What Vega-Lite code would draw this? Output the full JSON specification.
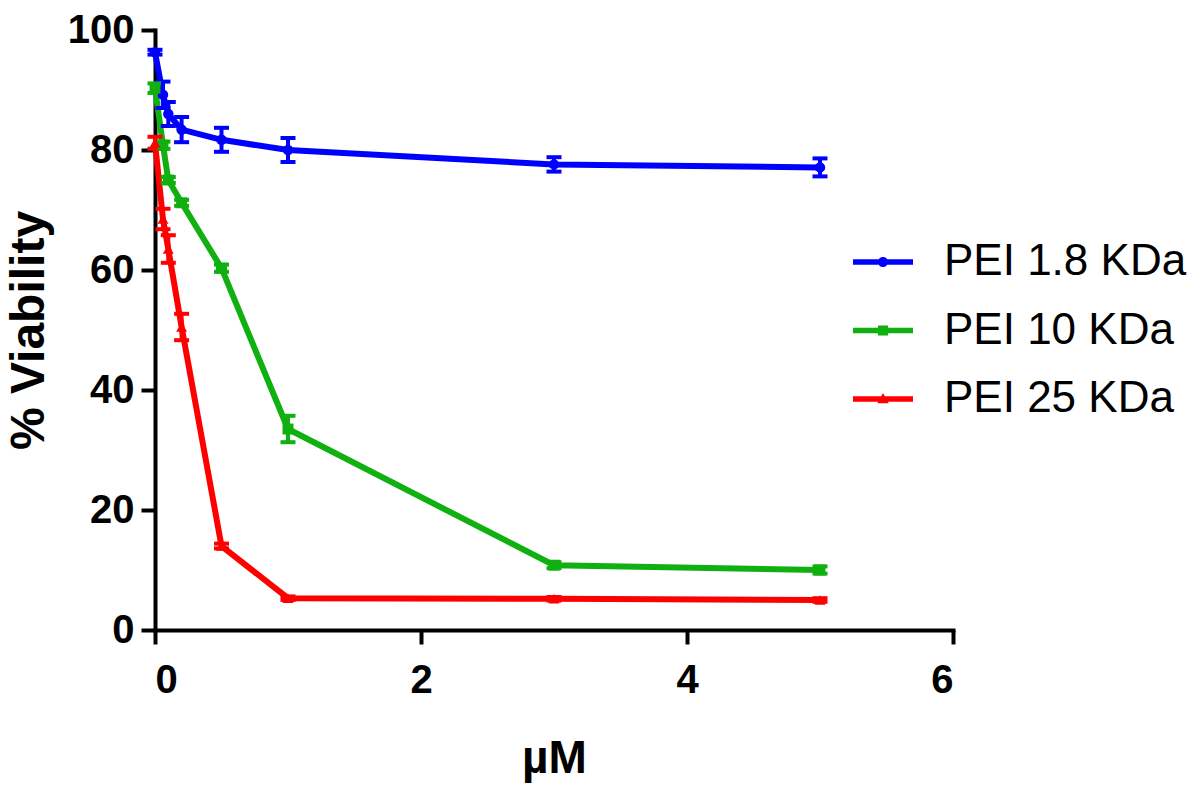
{
  "$schema": "https://vega.github.io/schema/vega-lite/v6.json",
  "width": 798,
  "height": 600,
  "autosize": {"type": "none"},
  "padding": {"left": 155, "top": 30, "right": 251, "bottom": 161},
  "background": "white",
  "config": {
    "view": {"stroke": null},
    "font": "Liberation Sans",
    "axis": {
      "grid": false,
      "domainColor": "black",
      "domainWidth": 4,
      "domainCap": "square",
      "tickColor": "black",
      "tickWidth": 4,
      "tickSize": 14,
      "labelFont": "Liberation Sans",
      "labelFontWeight": "bold",
      "labelFontSize": 40,
      "labelColor": "black",
      "titleFont": "Liberation Sans",
      "titleFontWeight": "bold",
      "titleFontSize": 48,
      "titleColor": "black"
    },
    "legend": {
      "labelFont": "Liberation Sans",
      "labelFontSize": 44,
      "labelColor": "black",
      "labelLimit": 400
    }
  },
  "data": {
    "values": [
      {"series": "PEI 1.8 KDa", "x": 0, "v": 96.3, "err": 0.4},
      {"series": "PEI 1.8 KDa", "x": 0.06, "v": 89.2, "err": 2.2},
      {"series": "PEI 1.8 KDa", "x": 0.1, "v": 86.0, "err": 2.0},
      {"series": "PEI 1.8 KDa", "x": 0.2, "v": 83.4, "err": 2.1},
      {"series": "PEI 1.8 KDa", "x": 0.5, "v": 81.7, "err": 2.0},
      {"series": "PEI 1.8 KDa", "x": 1, "v": 80.0, "err": 2.0},
      {"series": "PEI 1.8 KDa", "x": 3, "v": 77.6, "err": 1.2},
      {"series": "PEI 1.8 KDa", "x": 5, "v": 77.1, "err": 1.5},
      {"series": "PEI 10 KDa", "x": 0, "v": 90.3, "err": 0.8},
      {"series": "PEI 10 KDa", "x": 0.06, "v": 80.8, "err": 0.6},
      {"series": "PEI 10 KDa", "x": 0.1, "v": 75.0, "err": 0.5},
      {"series": "PEI 10 KDa", "x": 0.2, "v": 71.2, "err": 0.5},
      {"series": "PEI 10 KDa", "x": 0.5, "v": 60.3, "err": 0.6},
      {"series": "PEI 10 KDa", "x": 1, "v": 33.5, "err": 2.2},
      {"series": "PEI 10 KDa", "x": 3, "v": 10.8, "err": 0.5},
      {"series": "PEI 10 KDa", "x": 5, "v": 10.0, "err": 0.6},
      {"series": "PEI 25 KDa", "x": 0, "v": 81.2, "err": 1.0},
      {"series": "PEI 25 KDa", "x": 0.06, "v": 68.5, "err": 1.7},
      {"series": "PEI 25 KDa", "x": 0.1, "v": 63.5, "err": 2.3},
      {"series": "PEI 25 KDa", "x": 0.2, "v": 50.5, "err": 2.2},
      {"series": "PEI 25 KDa", "x": 0.5, "v": 14.0, "err": 0.4},
      {"series": "PEI 25 KDa", "x": 1, "v": 5.3, "err": 0.3},
      {"series": "PEI 25 KDa", "x": 3, "v": 5.2, "err": 0.3},
      {"series": "PEI 25 KDa", "x": 5, "v": 5.0, "err": 0.3}
    ]
  },
  "encoding": {
    "x": {
      "field": "x", "type": "quantitative",
      "scale": {"domain": [0, 6], "nice": false, "zero": false},
      "axis": {"values": [0, 2, 4, 6], "title": "µM", "labelPadding": 16, "titlePadding": 36, "titleFontSize": 46}
    },
    "y": {
      "field": "v", "type": "quantitative",
      "scale": {"domain": [0, 100], "nice": false},
      "axis": {"values": [0, 20, 40, 60, 80, 100], "title": "% Viability", "labelPadding": 7, "titlePadding": 14}
    }
  },
  "layer": [
    {
      "mark": {"type": "line", "strokeWidth": 6},
      "encoding": {
        "color": {"field": "series", "type": "nominal", "scale": {"range": ["#0000FF", "#10B010", "#FF0000"]}, "legend": null},
        "order": {"field": "x", "type": "quantitative"}
      }
    },
    {
      "mark": {"type": "errorbar", "thickness": 4, "ticks": {"size": 15, "thickness": 4, "opacity": 1}, "rule": {"opacity": 1}},
      "encoding": {
        "yError": {"field": "err"},
        "color": {"field": "series", "type": "nominal", "legend": null}
      }
    },
    {
      "transform": [{"filter": "datum.series === 'PEI 1.8 KDa'"}],
      "mark": {"type": "point", "shape": "circle", "filled": true, "size": 110, "opacity": 1},
      "encoding": {"color": {"field": "series", "type": "nominal", "legend": null}}
    },
    {
      "transform": [{"filter": "datum.series === 'PEI 10 KDa'"}],
      "mark": {"type": "point", "shape": "square", "filled": true, "size": 120, "opacity": 1},
      "encoding": {"color": {"field": "series", "type": "nominal", "legend": null}}
    },
    {
      "transform": [{"filter": "datum.series === 'PEI 25 KDa'"}],
      "mark": {"type": "point", "shape": "triangle-up", "filled": true, "size": 120, "opacity": 1},
      "encoding": {"color": {"field": "series", "type": "nominal", "legend": null}}
    },
    {
      "transform": [{"filter": "datum.x < 0"}],
      "mark": {"type": "point", "filled": true, "opacity": 1, "strokeWidth": 0},
      "encoding": {
        "fill": {
          "field": "series", "type": "nominal",
          "scale": {
            "domain": ["PEI 1.8 KDa", "PEI 10 KDa", "PEI 25 KDa"],
            "range": ["#0000FF", "#10B010", "#FF0000"]
          },
          "legend": {
            "title": null,
            "orient": "none",
            "legendX": 698,
            "legendY": 202,
            "padding": 0,
            "symbolSize": 3600,
            "symbolStrokeWidth": 0,
            "symbolOpacity": 1,
            "labelOffset": 31,
            "rowPadding": 16.5
          }
        },
        "shape": {
          "field": "series", "type": "nominal",
          "scale": {
            "domain": ["PEI 1.8 KDa", "PEI 10 KDa", "PEI 25 KDa"],
            "range": [
              "M-1,-0.09H1V0.09H-1ZM-0.17,0A0.17,0.17 0 1,1 0.17,0A0.17,0.17 0 1,1 -0.17,0Z",
              "M-1,-0.09H1V0.09H-1ZM-0.17,-0.17H0.17V0.17H-0.17Z",
              "M-1,-0.09H1V0.09H-1ZM0,-0.2L0.19,0.14H-0.19Z"
            ]
          },
          "legend": {
            "title": null,
            "orient": "none",
            "legendX": 698,
            "legendY": 202,
            "padding": 0,
            "symbolSize": 3600,
            "symbolStrokeWidth": 0,
            "symbolOpacity": 1,
            "labelOffset": 31,
            "rowPadding": 16.5
          }
        }
      }
    }
  ]
}
